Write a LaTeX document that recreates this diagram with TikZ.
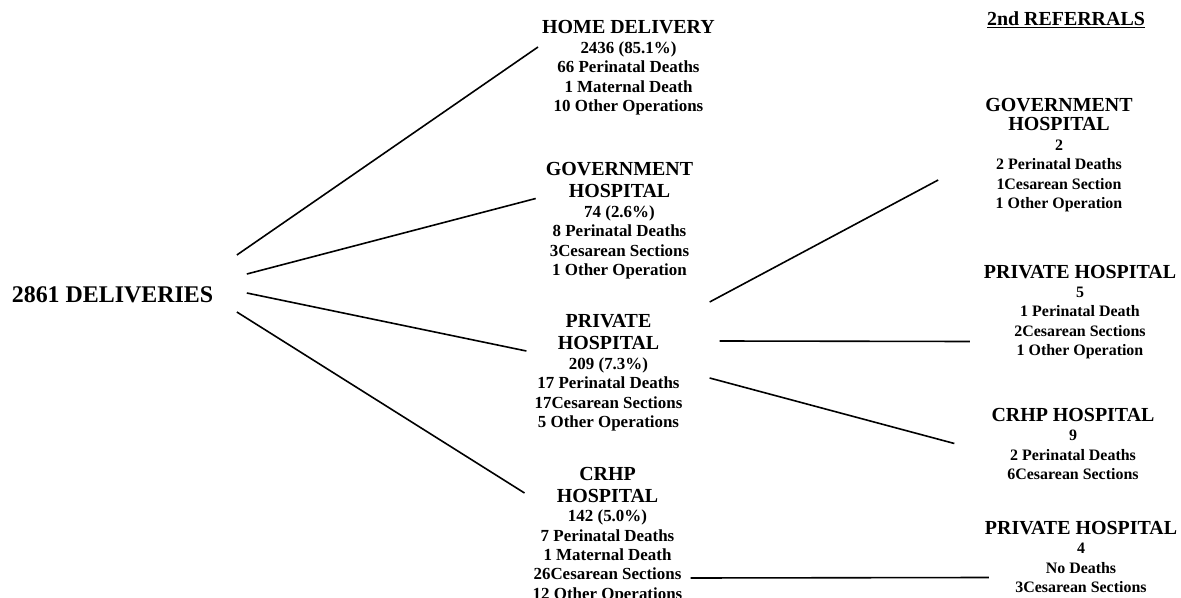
\documentclass[tikz,border=0pt]{standalone}
\usepackage{fontspec}
\setmainfont{Liberation Serif}
\usepackage{tikz}
\usetikzlibrary{positioning}
\newcommand{\headtxt}[1]{{\fontsize{20}{22}\selectfont #1}}

\begin{document}
\begin{tikzpicture}[x=1bp,y=-1bp,
        blk/.style={align=center,inner sep=0pt,
                    font=\fontsize{17}{19.5}\selectfont\bfseries},
        rblk/.style={align=center,inner sep=0pt,
                    font=\fontsize{16}{19.5}\selectfont\bfseries},
        ln/.style={line width=1.6bp,color=black}
      ]
        \useasboundingbox (0,0) rectangle (1181,598);
        % first level
        \node[inner sep=0pt,font=\fontsize{24}{26}\selectfont\bfseries] (R) at (112.5,295) {2861 DELIVERIES};
        \node[blk] (H) at (628.5,68) {\headtxt{HOME DELIVERY}\\2436 (85.1\%)\\66 Perinatal Deaths\\1 Maternal Death\\10 Other Operations};
        \node[blk] (G) at (619.5,221) {\headtxt{GOVERNMENT}\\[2.5pt]\headtxt{HOSPITAL}\\74 (2.6\%)\\8 Perinatal Deaths\\3Cesarean Sections\\1 Other Operation};
        \node[blk] (P) at (608.5,373) {\headtxt{PRIVATE}\\[2.5pt]\headtxt{HOSPITAL}\\209 (7.3\%)\\17 Perinatal Deaths\\17Cesarean Sections\\5 Other Operations};
        \node[blk] (C) at (607.5,535) {\headtxt{CRHP}\\[2.5pt]\headtxt{HOSPITAL}\\142 (5.0\%)\\7 Perinatal Deaths\\1 Maternal Death\\26Cesarean Sections\\12 Other Operations};
        % 2nd referrals
        \node[inner sep=0pt,font=\bfseries] (T) at (1066,20) {\headtxt{\underline{2nd REFERRALS}}};
        \node[rblk] (G2) at (1059,155) {\headtxt{GOVERNMENT}\\\headtxt{HOSPITAL}\\2\\2 Perinatal Deaths\\1Cesarean Section\\1 Other Operation};
        \node[rblk] (P2) at (1080,312) {\headtxt{PRIVATE HOSPITAL}\\5\\1 Perinatal Death\\2Cesarean Sections\\1 Other Operation};
        \node[rblk] (C2) at (1073,444) {\headtxt{CRHP HOSPITAL}\\9\\2 Perinatal Deaths\\6Cesarean Sections};
        \node[rblk] (P3) at (1081,557) {\headtxt{PRIVATE HOSPITAL}\\4\\No Deaths\\3Cesarean Sections};
        \draw[ln] ([shift={(23.5,-40)}]R.east)--([shift={(-4,-21)}]H.west);
        \draw[ln] ([shift={(33.5,-21)}]R.east)--([shift={(-10,-22.5)}]G.west);
        \draw[ln] ([shift={(33.5,-2)}]R.east)--([shift={(-8,-22)}]P.west);
        \draw[ln] ([shift={(23.5,17)}]R.east)--([shift={(-8,-42)}]C.west);
        \draw[ln] ([shift={(27,-71)}]P.east)--([shift={(-47,25)}]G2.west);
        \draw[ln] ([shift={(37,-32)}]P.east)--([shift={(-14,29.5)}]P2.west);
        \draw[ln] ([shift={(27,5)}]P.east)--([shift={(-37,-0.5)}]C2.west);
        \draw[ln] ([shift={(8,43)}]C.east)--([shift={(4,20.5)}]P3.west);
      \end{tikzpicture}
\end{document}
